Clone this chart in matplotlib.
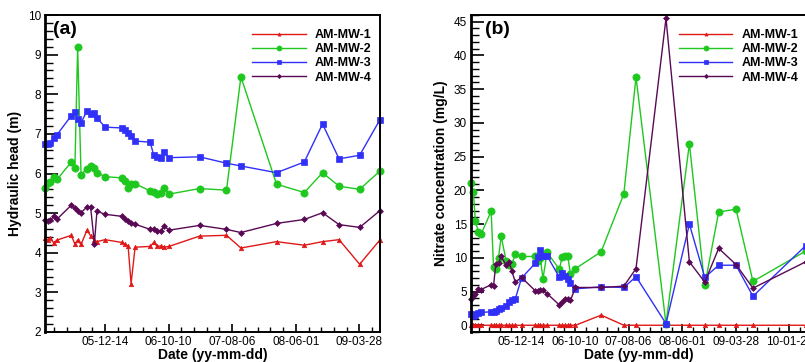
import datetime as dt
import numpy as np
import matplotlib
matplotlib.use("Agg")
import matplotlib.pyplot as plt
import matplotlib.dates as mdates
from matplotlib.ticker import MultipleLocator, FixedLocator

plt.rcParams['font.family'] = ['Liberation Sans', 'DejaVu Sans']

labels = ["AM-MW-1", "AM-MW-2", "AM-MW-3", "AM-MW-4"]

# ---- panel (a): hydraulic head (m) ----
head_dates = ['2005-03-06', '2005-03-20', '2005-03-31', '2005-04-16', '2005-05-02',
              '2005-07-08', '2005-07-25', '2005-08-07', '2005-08-23', '2005-09-20',
              '2005-10-07', '2005-10-25', '2005-11-06', '2005-12-14', '2006-03-03',
              '2006-03-19', '2006-04-02', '2006-04-16', '2006-05-05', '2006-07-15',
              '2006-08-01', '2006-08-17', '2006-09-05', '2006-09-18', '2006-10-12',
              '2007-03-05', '2007-07-10', '2007-09-16', '2008-03-02', '2008-07-11',
              '2008-10-05', '2008-12-22', '2009-03-29', '2009-07-02']
head_mw1 = [4.38, 4.32, 4.37, 4.25, 4.32, 4.44, 4.22, 4.32, 4.21, 4.57,
            4.43, 4.32, 4.28, 4.33, 4.26, 4.22, 4.17, 3.22, 4.14, 4.16,
            4.26, 4.16, 4.17, 4.14, 4.16, 4.42, 4.44, 4.12, 4.28, 4.19,
            4.28, 4.33, 3.71, 4.32]
head_mw2 = [5.64, 5.76, 5.79, 5.90, 5.85, 6.29, 6.15, 9.18, 5.97, 6.12,
            6.19, 6.13, 6.02, 5.92, 5.89, 5.82, 5.64, 5.74, 5.74, 5.56,
            5.53, 5.48, 5.51, 5.63, 5.48, 5.62, 5.58, 8.44, 5.73, 5.52,
            6.02, 5.68, 5.60, 6.06]
head_mw3 = [6.74, 6.74, 6.78, 6.90, 6.98, 7.46, 7.55, 7.38, 7.28, 7.58,
            7.50, 7.52, 7.41, 7.17, 7.15, 7.09, 7.02, 6.94, 6.82, 6.79,
            6.46, 6.41, 6.40, 6.54, 6.40, 6.42, 6.26, 6.19, 6.02, 6.29,
            7.25, 6.37, 6.46, 7.35]
head_mw4 = [4.83, 4.80, 4.82, 4.92, 4.85, 5.20, 5.12, 5.06, 5.01, 5.16,
            5.16, 4.23, 5.05, 4.97, 4.92, 4.86, 4.80, 4.75, 4.72, 4.59,
            4.59, 4.55, 4.55, 4.68, 4.57, 4.69, 4.59, 4.51, 4.74, 4.84,
            5.01, 4.71, 4.64, 5.06]

# ---- panel (b): nitrate concentration (mg/L) ----
no3_dates = ['2005-03-06', '2005-03-19', '2005-03-30', '2005-04-16', '2005-05-01',
             '2005-06-27', '2005-07-10', '2005-07-23', '2005-08-07', '2005-08-22',
             '2005-09-19', '2005-10-06', '2005-10-21', '2005-11-09', '2005-12-14',
             '2006-03-01', '2006-03-16', '2006-03-29', '2006-04-13', '2006-05-06',
             '2006-07-14', '2006-07-29', '2006-08-13', '2006-08-30', '2006-09-14',
             '2006-10-12', '2007-03-05', '2007-07-10', '2007-09-16', '2008-03-02',
             '2008-07-11', '2008-10-05', '2008-12-22', '2009-03-29', '2009-07-02',
             '2010-04-23']
no3_mw1 = [0.0, 0.0, 0.0, 0.0, 0.0, 0.0, 0.0, 0.0, 0.0, 0.0,
           0.0, 0.0, 0.0, 0.0, 0.0, 0.0, 0.0, 0.0, 0.0, 0.0,
           0.0, 0.0, 0.0, 0.0, 0.0, 0.0, 1.5, 0.0, 0.0, 0.0,
           0.0, 0.0, 0.0, 0.0, 0.0, 0.0]
no3_mw2 = [21.1, 19.8, 15.5, 13.9, 13.5, 16.9, 8.7, 8.3, 10.0, 13.2,
           9.5, 9.0, 9.1, 10.5, 10.2, 10.2, 9.5, 10.0, 6.9, 10.8,
           8.3, 10.1, 10.2, 10.2, 7.6, 8.4, 10.9, 19.5, 36.8, 0.2,
           26.9, 5.9, 16.8, 17.2, 6.5, 11.0]
no3_mw3 = [1.6, 1.4, 1.5, 1.8, 1.9, 2.0, 1.9, 2.1, 2.4, 2.6,
           2.8, 3.5, 3.8, 3.9, 7.0, 9.2, 10.1, 11.1, 10.3, 10.3,
           7.1, 7.7, 7.3, 6.8, 6.2, 5.4, 5.7, 5.6, 7.2, 0.25,
           15.0, 7.1, 8.9, 8.9, 4.3, 11.8]
no3_mw4 = [3.9, 4.3, 4.7, 5.4, 5.3, 6.0, 5.8, 9.1, 9.2, 10.2,
           8.9, 9.4, 8.0, 6.4, 7.1, 5.1, 5.1, 5.2, 5.2, 4.7,
           3.0, 3.4, 3.9, 3.9, 3.7, 5.6, 5.6, 5.8, 8.4, 45.5,
           9.4, 6.4, 11.4, 9.0, 5.5, 9.4]

colors = ["#e01818", "#1ec81e", "#3030f8", "#5a0a55"]
markers = ["^", "o", "s", "D"]
msizes = [3.2, 5.2, 4.3, 3.0]


def to_dates(strs):
    return [dt.datetime.strptime(s, "%Y-%m-%d") for s in strs]


def style_axes(ax, ylabel):
    base = dt.datetime(2005, 12, 14)
    major = [mdates.date2num(base + dt.timedelta(days=300 * k)) for k in range(-1, 6)]
    minor = [mdates.date2num(base + dt.timedelta(days=60 * k)) for k in range(-5, 30)]
    ax.xaxis.set_major_locator(FixedLocator(major))
    ax.xaxis.set_minor_locator(FixedLocator(minor))
    ax.xaxis.set_major_formatter(mdates.DateFormatter("%y-%m-%d"))
    ax.tick_params(axis="x", which="major", direction="in", length=6, width=1.2,
                   labelsize=8.5, pad=3, top=False)
    ax.tick_params(axis="x", which="minor", direction="in", length=3.5, width=1.0, top=False)
    ax.tick_params(axis="y", which="major", direction="in", length=9, width=1.2,
                   labelsize=8.5, pad=3, right=False)
    ax.tick_params(axis="y", which="minor", direction="in", length=5.5, width=1.0, right=False)
    for side in ["top", "right", "bottom"]:
        ax.spines[side].set_linewidth(1.4)
    ax.spines["left"].set_linewidth(2.0)
    ax.set_xlabel("Date (yy-mm-dd)", fontsize=10, fontweight="bold", labelpad=0)
    ax.set_ylabel(ylabel, fontsize=10, fontweight="bold", labelpad=4)


fig = plt.figure(figsize=(8.05, 3.62), dpi=100)
ax1 = fig.add_axes([45 / 805, 30 / 362, 335 / 805, 317 / 362])
ax2 = fig.add_axes([471 / 805, 30 / 362, 335 / 805, 317 / 362])

hd = to_dates(head_dates)
for vals, c, m, ms, lab in zip([head_mw1, head_mw2, head_mw3, head_mw4],
                               colors, markers, msizes, labels):
    ax1.plot(hd, vals, color=c, marker=m, markersize=ms, lw=1.0, label=lab,
             markeredgewidth=0.5, clip_on=False)

nd = to_dates(no3_dates)
for vals, c, m, ms, lab in zip([no3_mw1, no3_mw2, no3_mw3, no3_mw4],
                               colors, markers, msizes, labels):
    ax2.plot(nd, vals, color=c, marker=m, markersize=ms, lw=1.0, label=lab,
             markeredgewidth=0.5, clip_on=False)

ax1.set_xlim(hd[0], hd[-1] + dt.timedelta(days=1))
ax1.set_ylim(2, 10)
ax1.yaxis.set_major_locator(MultipleLocator(1))
ax1.yaxis.set_minor_locator(MultipleLocator(0.2))
style_axes(ax1, "Hydraulic head (m)")

ax2.set_xlim(nd[0], nd[-1] + dt.timedelta(days=2))
ax2.set_ylim(-1, 46)
ax2.yaxis.set_major_locator(MultipleLocator(5))
ax2.yaxis.set_minor_locator(MultipleLocator(1))
style_axes(ax2, "Nitrate concentration (mg/L)")

for ax, tag, tx, lx in [(ax1, "(a)", 0.024, 0.618), (ax2, "(b)", 0.042, 0.62)]:
    ax.text(tx, 0.953, tag, transform=ax.transAxes,
            fontsize=14, fontweight="bold", ha="left", va="center")
    ax.legend(loc="upper left", bbox_to_anchor=(lx, 0.956), frameon=False,
              prop={"weight": "bold", "size": 9}, handlelength=4.3,
              handletextpad=0.7, labelspacing=0.18, borderpad=0,
              borderaxespad=0, markerscale=0.7)

fig.savefig("out.png", dpi=100)
